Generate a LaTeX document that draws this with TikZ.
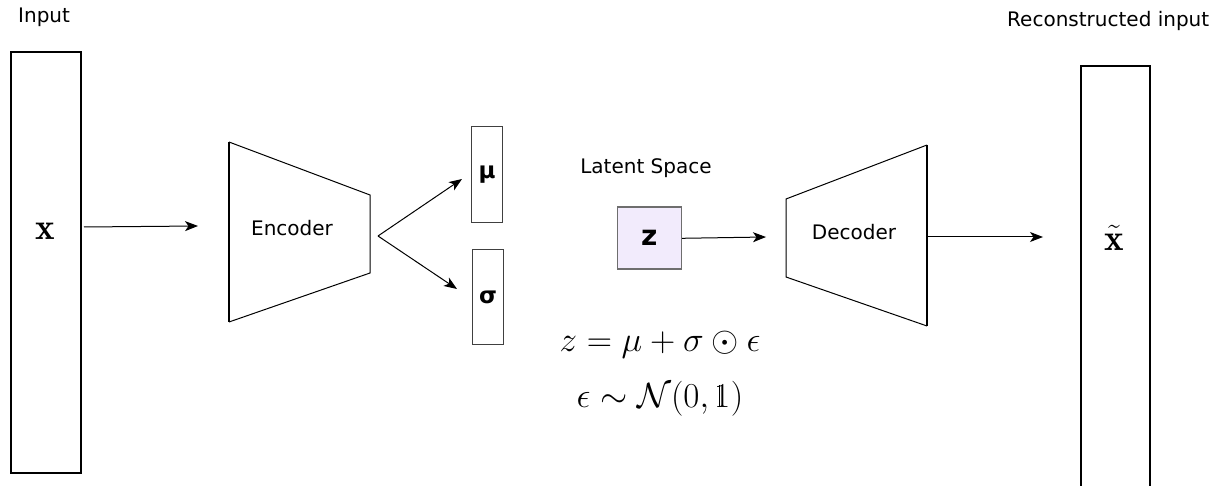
\RequirePackage{fix-cm}
\documentclass[tikz,border=0pt]{standalone}
\usepackage{amsmath,amssymb}
\usepackage{fontspec}
\setsansfont{DejaVu Sans}
\usetikzlibrary{arrows.meta}

% double-struck one: from bbm or dsfont when present, otherwise a 1 with a doubled stem
\IfFileExists{bbm.sty}{\usepackage{bbm}\newcommand\unitone{\mathbbm{1}}}{%
  \IfFileExists{dsfont.sty}{\usepackage{dsfont}\newcommand\unitone{\mathds{1}}}{%
    \newcommand\unitone{\mathord{\makebox[0pt][l]{\hspace{0.12em}\rule{0.028em}{0.62em}}\mathrm{1}}}}}

\definecolor{latentfill}{HTML}{F2EBFC}
\definecolor{latentdraw}{HTML}{6E6E6E}

\begin{document}
\begin{tikzpicture}[x=1pt,y=-1pt,
  lbl/.style={font=\sffamily\fontsize{20}{24}\selectfont, inner sep=0pt},
  sym/.style={font=\sffamily\bfseries\fontsize{23}{27}\selectfont, inner sep=0pt},
  mathlbl/.style={font=\fontsize{37}{42}\selectfont, inner sep=0pt},
  eqlbl/.style={font=\fontsize{35}{40}\selectfont, inner sep=0pt, anchor=base},
  vecbox/.style={draw=black, line width=2pt, inner sep=0pt, anchor=north west},
  parbox/.style={draw=black!75, line width=1pt, inner sep=0pt, anchor=north west},
  arr/.style={-{Stealth[length=13pt,width=10pt,inset=3.5pt]}, line width=1pt},
  thin/.style={line width=1pt, line join=miter},
  thick/.style={line width=2.2pt}
]
\useasboundingbox (0,0) rectangle (1226,486);
\clip (0,0) rectangle (1226,486);

% input vector
\node[lbl, anchor=base west] (inlbl) at (18,23) {Input};
\node[vecbox, minimum width=70pt, minimum height=421pt] (in) at (10,51) {};
\node[mathlbl] (xin) at (45,231) {$\mathbf{x}$};

% encoder
\coordinate (e1) at (229,142);
\coordinate (e2) at (370,195);
\coordinate (e3) at (370,273);
\coordinate (e4) at (229,322);
\draw[thin] (e1) -- (e2) -- (e3) -- (e4);
\draw[thick] (e1) -- (e4);
\node[lbl] (enc) at (292,228) {Encoder};

% mean and standard deviation
\node[parbox, minimum width=31pt, minimum height=96pt] (mu) at (471,126) {};
\node[sym] at (mu.center) {μ};
\node[parbox, minimum width=31pt, minimum height=95pt] (sigma) at (472,249) {};
\node[sym] at (sigma.center) {σ};

% latent code
\node[lbl] (latlbl) at (646,168) {Latent Space};
\node[draw=latentdraw, fill=latentfill, line width=1.6pt, minimum width=64pt,
      minimum height=62pt, inner sep=0pt, anchor=north west,
      font=\sffamily\bfseries\fontsize{28}{32}\selectfont] (z) at (616.5,206.5) {z};

% reparameterisation
\node[eqlbl] (eq1) at (660,352) {$z = \mu + \sigma \odot \epsilon$};
\node[eqlbl] (eq2) at (660,407) {$\epsilon \sim \mathcal{N}(0, \unitone)$};

% decoder
\coordinate (d1) at (786,199);
\coordinate (d2) at (927,145);
\coordinate (d3) at (927,326);
\coordinate (d4) at (786,277);
\draw[thin] (d2) -- (d1) -- (d4) -- (d3);
\draw[thick] (d2) -- (d3);
\node[lbl] (dec) at (854,232) {Decoder};

% reconstructed vector
\node[lbl, anchor=base west] (outlbl) at (1007,27) {Reconstructed input};
\node[vecbox, minimum width=69pt, minimum height=440pt] (out) at (1080,65) {};
\node[mathlbl] (xout) at (1114,238) {$\tilde{\mathbf{x}}$};

% connectors
\coordinate (a0) at (84,227);
\coordinate (a1) at (198,226);
\draw[arr] (a0) -- (a1);
\coordinate (split) at (378,236);
\coordinate (mutip) at (462,179);
\coordinate (sigtip) at (457,289);
\draw[arr] (split) -- (mutip);
\draw[arr] (split) -- (sigtip);
\coordinate (ztip) at (766,237);
\draw[arr] (z.east) -- (ztip);
\coordinate (dout) at (928,237);
\coordinate (outtip) at (1043,237);
\draw[arr] (dout) -- (outtip);
\end{tikzpicture}
\end{document}
